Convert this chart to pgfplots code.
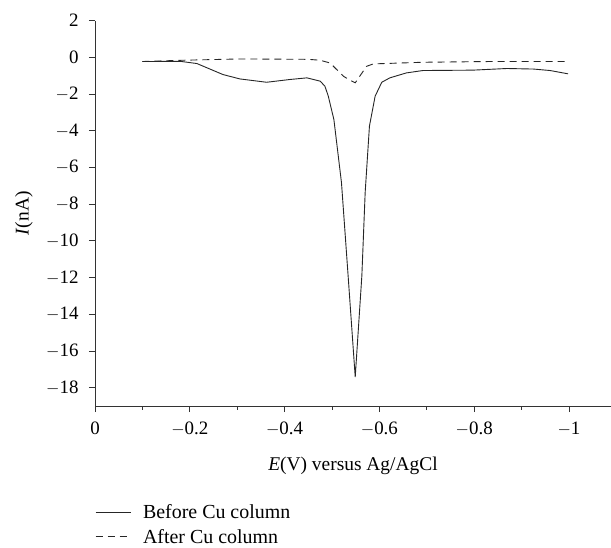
\documentclass[border=0pt]{standalone}
\usepackage{pgfplots}
\pgfplotsset{compat=1.18}
\usepackage{fontspec}
\setmainfont{Liberation Serif}
\begin{document}
\begin{tikzpicture}[x=1bp,y=1bp]
\begin{axis}[
  name=ax, at={(0,0)}, anchor=south west,
  scale only axis, width=516bp, height=385.4bp,
  axis lines=left, axis line style={-, black!80, line width=0.8bp},
  x dir=reverse, xmin=-1.0886, xmax=0, ymin=-19, ymax=2,
  xtick={0,-0.2,-0.4,-0.6,-0.8,-1}, xticklabels={0,$-$0.2,$-$0.4,$-$0.6,$-$0.8,$-$1},
  minor x tick num=1,
  ytick={-18,-16,-14,-12,-10,-8,-6,-4,-2,0,2},
  yticklabels={$-$18,$-$16,$-$14,$-$12,$-$10,$-$8,$-$6,$-$4,$-$2,0,2},
  tick align=outside, major tick length=6bp, minor tick length=3.5bp,
  tick style={black!80, line width=0.8bp},
  every tick label/.append style={font=\fontsize{19}{22}\selectfont},
  xticklabel style={yshift=-6bp},
  yticklabel style={xshift=-7bp},
  xlabel={\textit{E}(V) versus Ag/AgCl}, ylabel={\textit{I}(nA)},
  label style={font=\fontsize{19.5}{22}\selectfont},
  xlabel style={at={(axis description cs:0.5,-0.1557)}, anchor=center},
  ylabel style={at={(axis description cs:-0.1376,0.5)}, anchor=center},
  legend style={at={(axis description cs:0,-0.25)}, anchor=north west, draw=none, fill=none, inner sep=0pt,
    font=\fontsize{20}{22}\selectfont, cells={anchor=west}, row sep=5bp, column sep=10bp},
  legend cell align=left,
  legend image code/.code={\draw[#1] (0bp,0bp) -- (35bp,0bp);},
]
\addplot[black!85, line width=0.9bp] coordinates {
(-0.100,-0.23) (-0.18,-0.22) (-0.215,-0.34) (-0.27,-0.94) (-0.306,-1.18) (-0.362,-1.36)
(-0.411,-1.21) (-0.447,-1.12) (-0.475,-1.30) (-0.485,-1.57) (-0.492,-2.1) (-0.504,-3.39)
(-0.52,-6.83) (-0.534,-11.9) (-0.549,-17.42) (-0.563,-11.9) (-0.570,-7.36) (-0.579,-3.75)
(-0.591,-2.12) (-0.605,-1.36) (-0.622,-1.12) (-0.657,-0.85) (-0.692,-0.72) (-0.797,-0.70)
(-0.869,-0.61) (-0.925,-0.64) (-0.96,-0.72) (-0.998,-0.90)};
\addlegendentry{Before Cu column}
\addplot[black!85, line width=0.9bp, dash pattern=on 7bp off 5bp] coordinates {
(-0.1,-0.23) (-0.186,-0.16) (-0.306,-0.09) (-0.45,-0.11) (-0.475,-0.16) (-0.496,-0.31)
(-0.524,-1.03) (-0.538,-1.25) (-0.549,-1.39) (-0.573,-0.49) (-0.587,-0.36) (-0.692,-0.27)
(-0.833,-0.23) (-0.998,-0.23)};
\addlegendentry{After Cu column}
\end{axis}
\pgfresetboundingbox
\path[use as bounding box] (-95bp,-142bp) rectangle (516bp,406bp);
\end{tikzpicture}
\end{document}
